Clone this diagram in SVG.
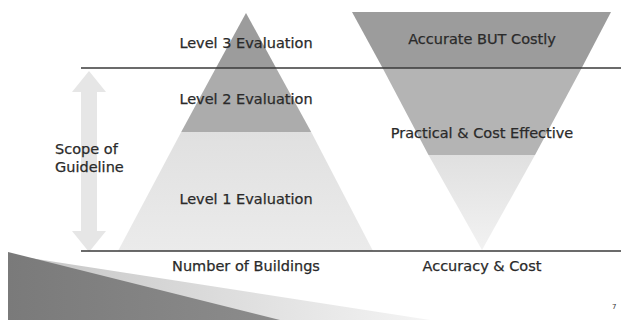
<svg xmlns="http://www.w3.org/2000/svg" width="621" height="320" viewBox="0 0 621 320">
<defs>
<style>
.t{font-family:"DejaVu Sans","Liberation Sans",sans-serif;font-size:14.5px;fill:#2a2a2a;stroke:#2a2a2a;stroke-width:0.25;}
.c{text-anchor:middle;}
.rule{stroke:#3a3a3a;stroke-width:1.3;fill:none;}
</style>
<linearGradient id="fade" x1="0" y1="0" x2="0" y2="1">
<stop offset="0" stop-color="#e0e0e0"/>
<stop offset="1" stop-color="#ebebeb"/>
</linearGradient>
<linearGradient id="fade2" x1="0" y1="0" x2="0" y2="1">
<stop offset="0" stop-color="#e0e0e0"/>
<stop offset="1" stop-color="#f2f2f2"/>
</linearGradient>
<linearGradient id="swoosh" x1="0" y1="0" x2="1" y2="0">
<stop offset="0" stop-color="#7a7a7a"/>
<stop offset="1" stop-color="#8c8c8c"/>
</linearGradient>
<linearGradient id="swooshLight" x1="0" y1="0" x2="1" y2="0">
<stop offset="0" stop-color="#c4c4c4"/>
<stop offset="1" stop-color="#f4f4f4"/>
</linearGradient>
</defs>
<rect width="621" height="320" fill="#ffffff"/>

<g id="swoosh-decoration">
<polygon points="30,258 430,320 8,320" fill="url(#swooshLight)"/>
<polygon points="8,252 280,320 8,320" fill="url(#swoosh)"/>
</g>

<g id="scope-arrow">
<polygon points="89,71 106,92 97,92 97,231 106,231 89,252 72,231 81,231 81,92 72,92" fill="#e6e6e6"/>
</g>

<g id="pyramid">
<polygon points="246,13 276.1,68 215.9,68" fill="#9c9c9c"/>
<polygon points="215.9,68 276.1,68 311.2,132 181.2,132" fill="#acacac"/>
<polygon points="181.2,132 311.2,132 373,251 118,251" fill="url(#fade)"/>
</g>

<g id="inverted-triangle">
<polygon points="352,12 611,12 581.7,68 382.6,68" fill="#9c9c9c"/>
<polygon points="382.6,68 581.7,68 535,155 428.5,155" fill="#b4b4b4"/>
<polygon points="428.5,155 535,155 482,250" fill="url(#fade2)"/>
</g>

<g id="connectors">
<line class="rule" x1="81" y1="68" x2="621" y2="68"/>
<line class="rule" x1="81" y1="251" x2="621" y2="251"/>
</g>

<g id="labels">
<text class="t c" x="246" y="48">Level 3 Evaluation</text>
<text class="t c" x="246" y="104">Level 2 Evaluation</text>
<text class="t c" x="246" y="204">Level 1 Evaluation</text>
<text class="t c" x="482" y="44">Accurate BUT Costly</text>
<text class="t c" x="482" y="138">Practical &amp; Cost Effective</text>
<text class="t" x="55" y="154">Scope of</text>
<text class="t" x="55" y="172">Guideline</text>
<text class="t c" x="246" y="271">Number of Buildings</text>
<text class="t c" x="482" y="271">Accuracy &amp; Cost</text>
<text x="612" y="309" style="font-family:'DejaVu Sans',sans-serif;font-size:7px;fill:#333">7</text>
</g>
</svg>
